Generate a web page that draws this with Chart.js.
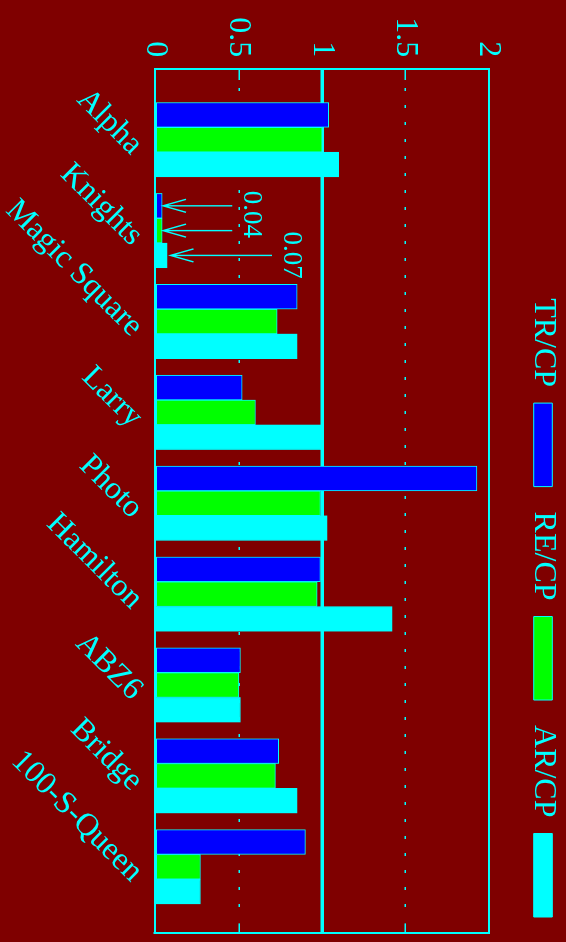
<!DOCTYPE html>
<html><head><meta charset="utf-8">
<script src="https://cdn.jsdelivr.net/npm/chart.js@4"></script>
<style>
html,body{margin:0;padding:0;background:#7f0000;width:566px;height:942px;overflow:hidden;}
#wrap{position:absolute;left:0;top:0;width:942px;height:566px;transform-origin:0 0;transform:translate(566px,0) rotate(90deg);background:#7f0000;}
canvas{display:block;}
</style></head><body>
<div id="wrap"><canvas id="c" width="942" height="566"></canvas></div>
<script>
// ---- data ----
const categories = ['Alpha','Knights','Magic Square','Larry','Photo','Hamilton','ABZ6','Bridge','100-S-Queen'];
const seriesNames = ['TR/CP','RE/CP','AR/CP'];
const trcp = [1.04, 0.04, 0.85, 0.52, 1.93, 0.99, 0.51, 0.74, 0.90];
const recp = [1.00, 0.04, 0.73, 0.60, 0.99, 0.97, 0.50, 0.72, 0.27];
const arcp = [1.10, 0.07, 0.85, 1.01, 1.03, 1.42, 0.51, 0.85, 0.27];
const valueTicks = [0, 0.5, 1, 1.5, 2];
// annotation on the Knights group
const noteCategory = 1;
const noteTexts = ['0.04', '0.07'];

// ---- layout / style ----
const CYAN = '#00ffff';
const FILLS = ['#0000ff', '#00ff00', '#00ffff'];
const FONT = "'Liberation Serif', 'Times New Roman', serif";
const X_MIN = -0.775, X_MAX = 8.725;
const ARROW_FROM = [0.46, 0.46, 0.70];
const ARROW_TO = [0.045, 0.045, 0.09];
const NOTE_POS = [[0.82, 0.575], [1.27, 0.816]];

Chart.defaults.font.family = FONT;
Chart.defaults.color = CYAN;

function gridDash(c) {
  const ca = c.chart.chartArea;
  const L = ca ? (ca.right - ca.left) : 863;
  const arr = [10, 8];
  let pos = 18;
  while (pos + 3 + 14 + 10 <= L - 4) { arr.push(3, 14); pos += 17; }
  arr.push(3); pos += 3;
  arr.push(Math.max(L - 10 - pos, 1), 10, 2000);
  return arr;
}

const notesPlugin = {
  id: 'notes',
  afterDatasetsDraw(chart) {
    const {ctx, scales: {x, y}} = chart;
    ctx.save();
    ctx.strokeStyle = CYAN;
    ctx.lineWidth = 1.4;
    ARROW_FROM.forEach((from, d) => {
      const bar = chart.getDatasetMeta(d).data[noteCategory];
      const px = bar.x;
      const y0 = y.getPixelForValue(from);
      const y1 = y.getPixelForValue(ARROW_TO[d]);
      ctx.beginPath();
      ctx.moveTo(px, y0); ctx.lineTo(px, y1);
      ctx.moveTo(px - 6.5, y1 - 23); ctx.lineTo(px, y1); ctx.lineTo(px + 6.5, y1 - 23);
      ctx.stroke();
    });
    ctx.fillStyle = CYAN;
    ctx.font = "27px " + FONT;
    ctx.textAlign = 'center';
    ctx.textBaseline = 'middle';
    noteTexts.forEach((t, i) => {
      ctx.fillText(t, x.getPixelForValue(NOTE_POS[i][0]), y.getPixelForValue(NOTE_POS[i][1]));
    });
    ctx.restore();
  }
};

const series = [trcp, recp, arcp];
new Chart(document.getElementById('c'), {
  type: 'bar',
  data: {
    datasets: series.map((arr, k) => ({
      label: seriesNames[k],
      data: arr.map((v, i) => ({x: i, y: v})),
      backgroundColor: FILLS[k],
      borderColor: CYAN,
      borderWidth: 1,
      borderSkipped: false,
      barThickness: 24.8,
      xAxisID: 'x', yAxisID: 'y'
    }))
  },
  options: {
    responsive: false,
    animation: false,
    layout: {padding: {top: -18, left: 0, right: 0, bottom: 0}},
    plugins: {
      tooltip: {enabled: false},
      legend: {
        position: 'top', align: 'start', rtl: true, reverse: true, textDirection: 'ltr',
        labels: {
          font: {size: 32, family: FONT}, color: CYAN,
          boxWidth: 83.5, boxHeight: 18.6, padding: 25
        }
      }
    },
    scales: {
      x: {
        type: 'linear', position: 'bottom', min: X_MIN, max: X_MAX, offset: false,
        afterBuildTicks: s => { s.ticks = categories.map((c, i) => ({value: i})); },
        afterFit: s => { s.height = 155.5; },
        ticks: {
          autoSkip: false, minRotation: 45, maxRotation: 45, padding: 5, labelOffset: 10,
          font: {size: 32, family: FONT}, color: CYAN,
          callback: (v, i) => categories[i]
        },
        grid: {display: true, offset: false, color: 'transparent', drawTicks: false},
        border: {display: true, color: CYAN, width: 2}
      },
      x2: {
        type: 'linear', position: 'top', min: X_MIN, max: X_MAX, offset: false,
        afterFit: s => { s.height = 28.3; },
        ticks: {display: false},
        grid: {display: true, offset: false, color: 'transparent', drawTicks: false},
        border: {display: true, color: CYAN, width: 2}
      },
      y: {
        type: 'linear', position: 'left', min: 0, max: 2,
        afterBuildTicks: s => { s.ticks = valueTicks.map(v => ({value: v})); },
        afterFit: s => { s.width = 69.3; },
        ticks: {
          padding: 12, font: {size: 32, family: FONT}, color: CYAN,
          callback: (v, i) => String(valueTicks[i])
        },
        grid: {
          drawTicks: false, lineWidth: 1.5,
          color: c => (c.tick && (c.tick.value === 0.5 || c.tick.value === 1.5)) ? CYAN : 'transparent'
        },
        border: {display: true, color: CYAN, width: 2, dash: gridDash}
      },
      y2: {
        type: 'linear', position: 'right', min: 0, max: 2,
        afterBuildTicks: s => { s.ticks = valueTicks.map(v => ({value: v})); },
        afterFit: s => { s.width = 9.3; },
        ticks: {display: false},
        grid: {
          drawTicks: false, lineWidth: 3.5,
          color: c => (c.tick && c.tick.value === 1) ? CYAN : 'transparent'
        },
        border: {display: true, color: CYAN, width: 2}
      }
    }
  },
  plugins: [notesPlugin]
});
</script>
</body></html>
